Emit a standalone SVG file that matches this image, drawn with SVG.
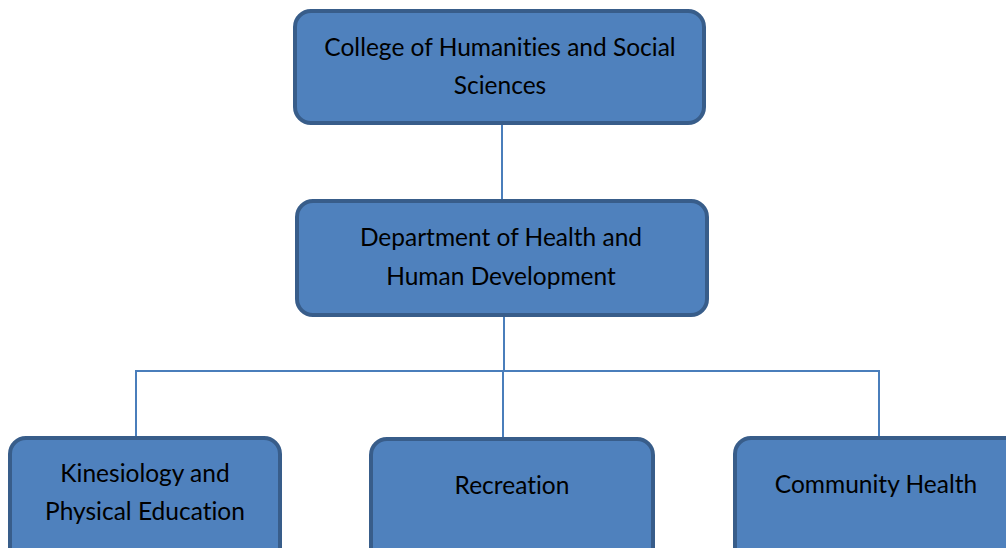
<svg xmlns="http://www.w3.org/2000/svg" width="1006" height="548" viewBox="0 0 1006 548">
  <style>
    .box { fill: #4f81bd; stroke: #385d8a; stroke-width: 4; }
    .lbl { font-family: Lato, "Liberation Sans", sans-serif; font-size: 24.5px; fill: #000; text-anchor: middle; font-variant-ligatures: none; }
    .wire { stroke: #4a7ebb; stroke-width: 2; fill: none; }
  </style>
  <rect width="1006" height="548" fill="#ffffff"/>
  <g id="connectors">
    <line class="wire" x1="502" y1="124" x2="502" y2="200"/>
    <line class="wire" x1="504" y1="316" x2="504" y2="371"/>
    <line class="wire" x1="136" y1="371" x2="879" y2="371"/>
    <line class="wire" x1="136" y1="370" x2="136" y2="438"/>
    <line class="wire" x1="503" y1="371" x2="503" y2="438"/>
    <line class="wire" x1="879" y1="370" x2="879" y2="438"/>
  </g>
  <g id="college">
    <rect class="box" x="295" y="11" width="409" height="112" rx="16"/>
    <text class="lbl" x="500" y="56">College of Humanities and Social</text>
    <text class="lbl" x="500" y="94">Sciences</text>
  </g>
  <g id="department">
    <rect class="box" x="297" y="201" width="410" height="114" rx="16"/>
    <text class="lbl" x="501" y="246">Department of Health and</text>
    <text class="lbl" x="501" y="285">Human Development</text>
  </g>
  <g id="kinesiology">
    <rect class="box" x="10" y="438" width="270" height="125" rx="16"/>
    <text class="lbl" x="145" y="482">Kinesiology and</text>
    <text class="lbl" x="145" y="520">Physical Education</text>
  </g>
  <g id="recreation">
    <rect class="box" x="371" y="439" width="282" height="125" rx="16"/>
    <text class="lbl" x="512" y="494">Recreation</text>
  </g>
  <g id="community-health">
    <rect class="box" x="735" y="438" width="290" height="125" rx="16"/>
    <text class="lbl" x="876" y="493">Community Health</text>
  </g>
</svg>
